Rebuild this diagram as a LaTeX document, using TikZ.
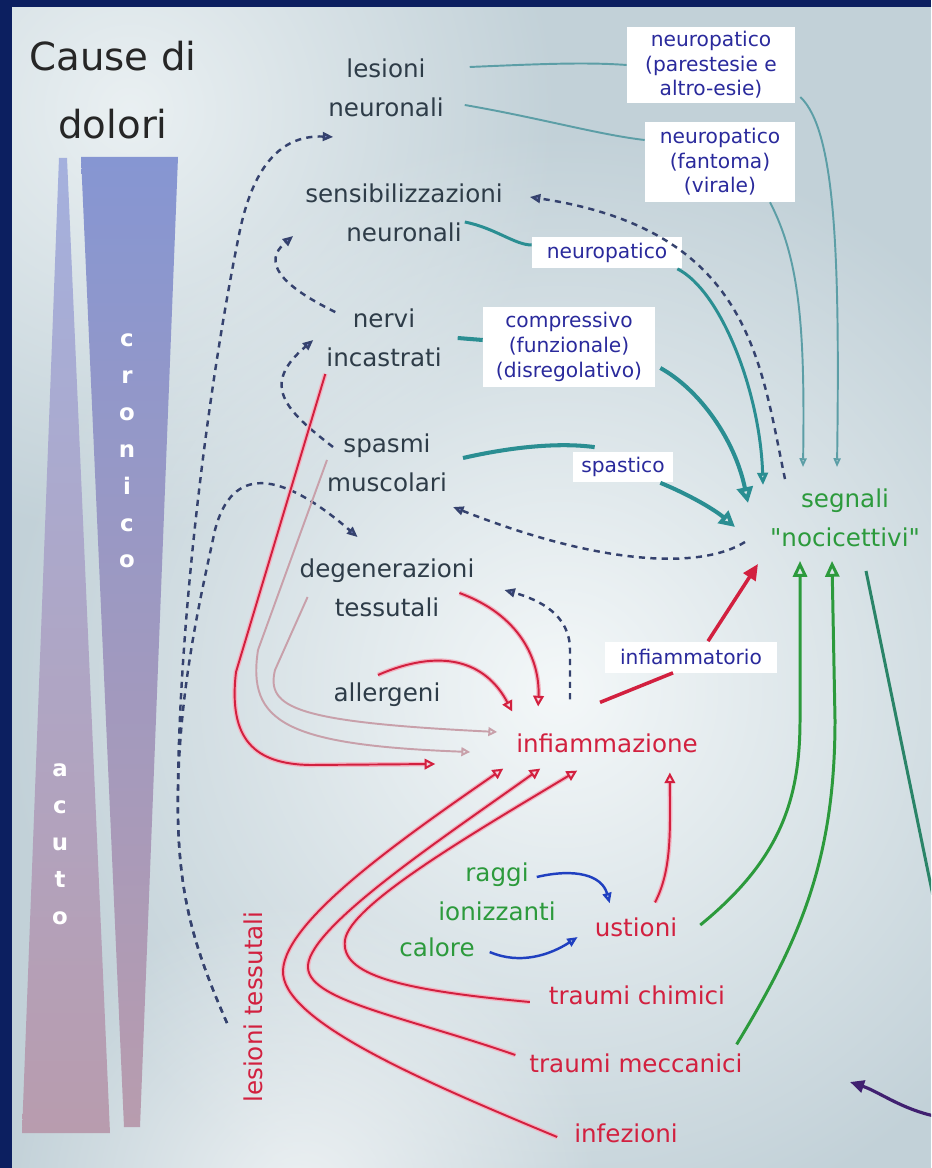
\documentclass[tikz,border=0pt]{standalone}
\usepackage{fontspec}
\setmainfont{DejaVu Sans}[Ligatures=TeXOff]
\usepackage{tikz}
\usetikzlibrary{arrows.meta,fadings}

\definecolor{framec}{HTML}{0C1F60}
\definecolor{bgc}{HTML}{C2D1D8}
\definecolor{glowc}{HTML}{F4F8F9}
\definecolor{textc}{HTML}{2E3C48}
\definecolor{redc}{HTML}{D2203F}
\definecolor{pinkc}{HTML}{F2B4C2}
\definecolor{palec}{HTML}{C8A0AA}
\definecolor{greenc}{HTML}{2C9A3C}
\definecolor{darkgreenc}{HTML}{2A8468}
\definecolor{tealc}{HTML}{2A8E92}
\definecolor{tealthinc}{HTML}{5C9EA6}
\definecolor{dashc}{HTML}{35426E}
\definecolor{dashfill}{HTML}{8A94D8}
\definecolor{boxtextc}{HTML}{2A2A9C}
\definecolor{bluec}{HTML}{2040C0}
\definecolor{purplec}{HTML}{402070}
\definecolor{bartop}{HTML}{8696D2}
\definecolor{barbot}{HTML}{B89CAE}

\tikzfading[name=glowfade, inner color=transparent!0, outer color=transparent!100]

\begin{document}
\begin{tikzpicture}[x=0.02cm, y=-0.02cm,
  lbl/.style={font=\fontsize{14}{22}\selectfont, text=textc, align=center, inner sep=1pt},
  redlbl/.style={lbl, text=redc},
  greenlbl/.style={lbl, text=greenc},
  labelbox/.style={fill=white, text=boxtextc, font=\fontsize{11.5}{14}\selectfont, align=center, inner sep=0pt},
  barletters/.style={text=white, font=\fontsize{13}{21}\selectfont\bfseries, align=center, inner sep=0pt},
  tealthin/.style={draw=tealthinc, line width=1.1pt},
  tealmid/.style={draw=tealc, line width=1.7pt},
  tealthick/.style={draw=tealc, line width=2.3pt},
  redline/.style={draw=redc, line width=1.1pt, preaction={draw=pinkc, line width=2.6pt}},
  redthick/.style={draw=redc, line width=2pt},
  paleline/.style={draw=palec, line width=1.1pt},
  dashline/.style={draw=dashc, line width=1.4pt, dash pattern=on 3.5pt off 3pt},
  greenline/.style={draw=greenc, line width=1.7pt},
  darkgreenline/.style={draw=darkgreenc, line width=1.7pt},
  blueline/.style={draw=bluec, line width=1.4pt},
  purpleline/.style={draw=purplec, line width=1.8pt},
  smalltip/.style={-{Triangle[open,length=5pt,width=4pt]}},
  midtip/.style={-{Triangle[open,length=7pt,width=6pt]}},
  bigtip/.style={-{Triangle[open,length=9pt,width=9pt]}},
  redtip/.style={-{Triangle[open,length=6pt,width=6pt]}},
  paletip/.style={-{Triangle[open,length=5pt,width=5pt]}},
  redfilltip/.style={-{Triangle[length=9pt,width=8pt]}},
  greentip/.style={-{Triangle[open,length=9pt,width=8pt]}},
  bluetip/.style={-{Triangle[open,length=6pt,width=5pt]}},
  purpletip/.style={-{Triangle[length=8pt,width=7pt]}},
  dashtip/.style={-{Triangle[length=6pt,width=5pt,fill=dashfill]}}]

\useasboundingbox (0,0) rectangle (931,1168);
\clip (0,0) rectangle (931,1168);
\fill[bgc] (0,0) rectangle (931,1168);
\begin{scope}
  \clip (12,7) rectangle (931,1168);
  \fill[glowc, path fading=glowfade, fill opacity=0.8] (130,110) circle (430);
  \fill[glowc, path fading=glowfade] (560,690) circle (560);
  \fill[white, path fading=glowfade, fill opacity=0.7] (300,1200) circle (300);
\end{scope}
\fill[framec] (0,0) rectangle (931,7);
\fill[framec] (0,0) rectangle (12,1168);

\shade[top color=bartop!75!white, bottom color=barbot] (59,158) -- (67,158) -- (110,1133) -- (22,1133) -- cycle;
\shade[top color=bartop, bottom color=barbot] (81,157) -- (178,157) -- (140,1127) -- (124,1127) -- cycle;
\node[barletters] (cronico) at (127,451) {c\\r\\o\\n\\i\\c\\o};
\node[barletters] (acuto) at (60,844) {a\\c\\u\\t\\o};

\node[font=\fontsize{22}{38.5}\selectfont, text=black!85, align=center, inner sep=0pt] (title) at (113,90) {Cause di\\dolori};

\node[lbl] (lesn) at (386,88) {lesioni\\neuronali};
\node[lbl] (sens) at (404,213) {sensibilizzazioni\\neuronali};
\node[lbl] (nerv) at (384,338) {nervi\\incastrati};
\node[lbl] (spas) at (387,463) {spasmi\\muscolari};
\node[lbl] (degen) at (387,588) {degenerazioni\\tessutali};
\node[lbl] (allerg) at (387,695) {allergeni};
\node[redlbl] (infl) at (607,743) {infiammazione};
\node[greenlbl] (raggi) at (497,892) {raggi\\ionizzanti};
\node[greenlbl] (calore) at (437,947) {calore};
\node[redlbl] (ust) at (636,927) {ustioni};
\node[redlbl] (trchim) at (637,995) {traumi chimici};
\node[redlbl] (trmecc) at (636,1063) {traumi meccanici};
\node[redlbl] (infez) at (626,1133) {infezioni};
\node[redlbl, rotate=90] (lestess) at (253,1007) {lesioni tessutali};
\node[greenlbl] (segn) at (845,518) {segnali\\"nocicettivi"};

\node[labelbox, minimum width=3.36cm, minimum height=1.52cm] (np1) at (711,65) {neuropatico\\(parestesie e\\altro-esie)};
\node[labelbox, minimum width=3cm, minimum height=1.6cm] (np2) at (720,162) {neuropatico\\(fantoma)\\(virale)};
\node[labelbox, minimum width=3cm, minimum height=0.62cm] (np3) at (607,253) {neuropatico};
\node[labelbox, minimum width=3.44cm, minimum height=1.62cm] (compr) at (569,347) {compressivo\\(funzionale)\\(disregolativo)};
\node[labelbox, minimum width=2cm, minimum height=0.62cm] (spast) at (623,467) {spastico};
\node[labelbox, minimum width=3.46cm, minimum height=0.62cm] (inftorio) at (691,657) {infiammatorio};

\coordinate (edgeR) at (940,930);
\coordinate (edgeBR) at (945,1118);
\coordinate (purptip) at (850,1082);

\draw[tealthin] ([shift={(24,-21)}]lesn.east) .. controls (540,64) and (585,62) .. (np1.west);
\draw[tealthin] ([shift={(19,17)}]lesn.east) .. controls (540,118) and (600,135) .. ([shift={(0,-22)}]np2.west);
\draw[tealthin, smalltip] ([shift={(5,32)}]np1.east) .. controls (835,130) and (840,250) .. ([shift={(-8,-20)}]segn.north);
\draw[tealthin, smalltip] ([shift={(50,0)}]np2.south) .. controls (800,260) and (805,330) .. ([shift={(-42,-20)}]segn.north);
\draw[tealmid] ([shift={(-40,9)}]sens.east) .. controls (495,228) and (515,245) .. ([shift={(0,-8)}]np3.west);
\draw[tealmid, midtip] ([shift={(-5,0)}]np3.south east) .. controls (720,290) and (760,390) .. ([shift={(-5,-2)}]segn.north west);
\draw[tealthick] ([shift={(14,0)}]nerv.east) -- ([shift={(0,-7)}]compr.west);
\draw[tealthick, bigtip] ([shift={(5,21)}]compr.east) .. controls (700,390) and (735,440) .. ([shift={(-20,-15)}]segn.west);
\draw[tealthick] ([shift={(14,-5)}]spas.east) .. controls (520,445) and (565,443) .. ([shift={(22,-4)}]spast.north west);
\draw[tealthick, bigtip] ([shift={(-13,0)}]spast.south east) .. controls (690,495) and (715,510) .. ([shift={(-33,9)}]segn.west);

\draw[dashline, dashtip] ([shift={(-26,16)}]lestess.center) .. controls (195,950) and (180,900) .. (178,820) .. controls (176,650) and (205,400) .. (240,230) .. controls (255,160) and (285,135) .. ([shift={(7,18)}]lesn.south west);
\draw[dashline, dashtip] ([shift={(-26,16)}]lestess.center) .. controls (195,950) and (180,900) .. (178,820) .. controls (176,700) and (200,600) .. (215,530) .. controls (232,465) and (280,470) .. ([shift={(60,-20)}]degen.north west);
\draw[dashline, dashtip] ([shift={(8,-16)}]spas.west) .. controls (285,410) and (260,385) .. ([shift={(-11,2)}]nerv.west);
\draw[dashline, dashtip] ([shift={(11,5)}]nerv.north west) .. controls (280,285) and (262,262) .. ([shift={(-10,-8)}]sens.south west);
\draw[dashline, dashtip] ([shift={(17,-8)}]segn.north west) .. controls (760,360) and (750,230) .. ([shift={(25,-16)}]sens.east);
\draw[dashline, dashtip] ([shift={(-23,24)}]segn.west) .. controls (700,570) and (600,565) .. ([shift={(4,44)}]spas.east);
\draw[dashline, dashtip] ([shift={(-37,-32)}]infl.north) -- (570,650) .. controls (570,615) and (540,600) .. ([shift={(28,2)}]degen.east);

\draw[redline, redtip] ([shift={(1,5)}]nerv.south west) -- (236,672) .. controls (228,740) and (255,764) .. (310,765) -- ([shift={(-79,21)}]infl.west);
\draw[paleline, paletip] ([shift={(2,-3)}]spas.west) -- (258,650) .. controls (247,722) and (285,745) .. ([shift={(-44,9)}]infl.west);
\draw[paleline, paletip] ([shift={(10,9)}]degen.west) -- (275,670) .. controls (266,708) and (295,722) .. ([shift={(-17,-11)}]infl.west);
\draw[redline, redtip] ([shift={(-17,5)}]degen.east) .. controls (520,615) and (540,660) .. ([shift={(24,-25)}]infl.north west);
\draw[redline, redtip] ([shift={(-9,-6)}]allerg.north) .. controls (440,648) and (485,660) .. ([shift={(-2,-20)}]infl.north west);
\draw[redline, redtip] ([shift={(19,-13)}]ust.north) .. controls (672,870) and (670,830) .. ([shift={(-30,18)}]infl.south east);
\draw[redline, redtip] ([shift={(-17,7)}]trchim.west) .. controls (400,990) and (340,975) .. (345,940) .. controls (350,905) and (470,835) .. ([shift={(63,16)}]infl.south west);
\draw[redline, redtip] ([shift={(-12,-8)}]trmecc.west) .. controls (400,1015) and (305,1000) .. (308,965) .. controls (312,925) and (440,840) .. ([shift={(26,14)}]infl.south west);
\draw[redline, redtip] ([shift={(-15,4)}]infez.west) .. controls (420,1080) and (280,1020) .. (283,970) .. controls (286,920) and (400,840) .. ([shift={(-11,14)}]infl.south west);
\draw[redthick] ([shift={(-7,-29)}]infl.north) -- ([shift={(-18,0)}]inftorio.south);
\draw[redthick, redfilltip] ([shift={(17,0)}]inftorio.north) -- ([shift={(-10,15)}]segn.south west);

\draw[greenline, greentip] ([shift={(21,-2)}]ust.east) .. controls (780,860) and (800,800) .. (800,720) -- ([shift={(-45,12)}]segn.south);
\draw[greenline, greentip] ([shift={(-8,-7)}]trmecc.north east) .. controls (800,940) and (835,860) .. (835,720) -- ([shift={(-13,12)}]segn.south);
\draw[darkgreenline] ([shift={(21,22)}]segn.south) -- (edgeR);

\draw[blueline, bluetip] ([shift={(-21,-15)}]raggi.east) .. controls (575,868) and (602,875) .. ([shift={(17,-12)}]ust.north west);
\draw[blueline, bluetip] ([shift={(13,5)}]calore.east) .. controls (520,965) and (550,955) .. ([shift={(-15,10)}]ust.west);
\draw[purpleline, purpletip] (edgeBR) .. controls (905,1112) and (880,1092) .. (purptip);
\end{tikzpicture}
\end{document}
